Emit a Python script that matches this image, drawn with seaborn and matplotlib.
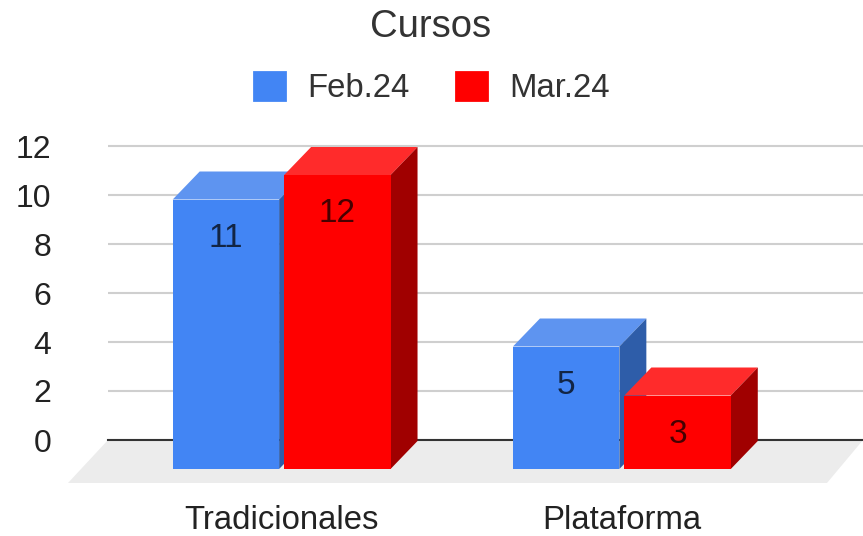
import seaborn as sns
import numpy as np
import matplotlib.pyplot as plt
import matplotlib.patches as mpatches
import pandas as pd

W, H = 863, 536

cursos = ["Tradicionales", "Plataforma"]
periodos = ["Feb.24", "Mar.24"]
feb_24 = [11, 5]
mar_24 = [12, 3]
y_ticks = [0, 2, 4, 6, 8, 10, 12]

front_colors = ["#4285f4", "#ff0000"]
top_colors = ["#5e94f0", "#ff2b2b"]
side_colors = ["#2e5da9", "#a00000"]


def px_axes(left, right, bottom, top):
    # pixel box (from top left) -> figure fractions
    return [left / W, 1 - bottom / H, (right - left) / W, (bottom - top) / H]


sns.set_theme(style="white")
plt.rcParams["font.family"] = ["Liberation Sans", "DejaVu Sans"]

data = pd.DataFrame({
    "curso": cursos * 2,
    "periodo": [periodos[0]] * 2 + [periodos[1]] * 2,
    "valor": feb_24 + mar_24,
})

fig = plt.figure(figsize=(W / 100, H / 100), dpi=100)

# back wall: grid and y axis
y_unit = 24.5
y_max = 12.2
ax_back = fig.add_axes(px_axes(108, 863, 440, 440 - y_max * y_unit))
ax_back.set_xlim(0, 1)
ax_back.set_ylim(0, y_max)
ax_back.set_xticks([])
ax_back.set_yticks(y_ticks)
ax_back.tick_params(axis="y", length=0, pad=41, labelsize=23, labelcolor="#222222")
ax_back.grid(axis="y", color="#cfcfcf", lw=1.5)
ax_back.set_axisbelow(True)
sns.despine(ax=ax_back, left=True)
ax_back.spines["bottom"].set_color("#333333")
ax_back.spines["bottom"].set_linewidth(1.5)
ax_back.patch.set_alpha(0)

# floor
floor_px = np.array([(108, 440), (863, 440), (827, 483), (68, 483)], dtype=float)
floor_fig = np.column_stack([floor_px[:, 0] / W, 1 - floor_px[:, 1] / H])
fig.add_artist(mpatches.Polygon(floor_fig, closed=True, transform=fig.transFigure,
                                facecolor="#ececec", edgecolor="none", zorder=-1))

# front plane: the bars, shifted down and left from the wall
ax = fig.add_axes(px_axes(111.5, 792, 469, 469 - y_max * y_unit))
sns.barplot(data=data, x="curso", y="valor", hue="periodo", palette=front_colors,
            saturation=1, width=0.655, gap=0.045, legend=False, zorder=3, linewidth=0, ax=ax)
ax.set_xlim(-0.5, 1.5)
ax.set_ylim(0, y_max)
ax.set_xlabel(None)
ax.set_ylabel(None)
ax.set_yticks([])
ax.tick_params(axis="x", length=0, pad=26, labelsize=23.7, labelcolor="#222222")
ax.patch.set_alpha(0)
sns.despine(ax=ax, left=True, bottom=True)

dx = 27 / 340.5
dy = 28 / y_unit
for container, top_c, side_c in zip(ax.containers, top_colors, side_colors):
    for bar in container:
        x0, x1 = bar.get_x(), bar.get_x() + bar.get_width()
        h = bar.get_height()
        ax.add_patch(mpatches.Polygon([(x0, h), (x1, h), (x1 + dx, h + dy), (x0 + dx, h + dy)],
                                      facecolor=top_c, edgecolor="none", clip_on=False, zorder=2))
        ax.add_patch(mpatches.Polygon([(x1, 0), (x1 + dx, dy), (x1 + dx, h + dy), (x1, h)],
                                      facecolor=side_c, edgecolor="none", clip_on=False, zorder=2))
    ax.bar_label(container, padding=-39, fontsize=24, color=(0, 0, 0, 0.72), zorder=4)

# legend
handles = [mpatches.Patch(facecolor=c, edgecolor=c, lw=2, joinstyle="round", label=p)
           for c, p in zip(front_colors, periodos)]
fig.legend(handles=handles, loc="center", bbox_to_anchor=(432 / W, 1 - 88 / H), ncol=2,
           frameon=False, fontsize=23.7, labelcolor="#333333", handlelength=0.94, handleheight=0.94,
           handletextpad=0.66, columnspacing=1.42)

fig.suptitle("Cursos", x=431 / W, y=1 - 27 / H, va="center", fontsize=27.5, color="#333333")

fig.savefig("out.png", dpi=100)
